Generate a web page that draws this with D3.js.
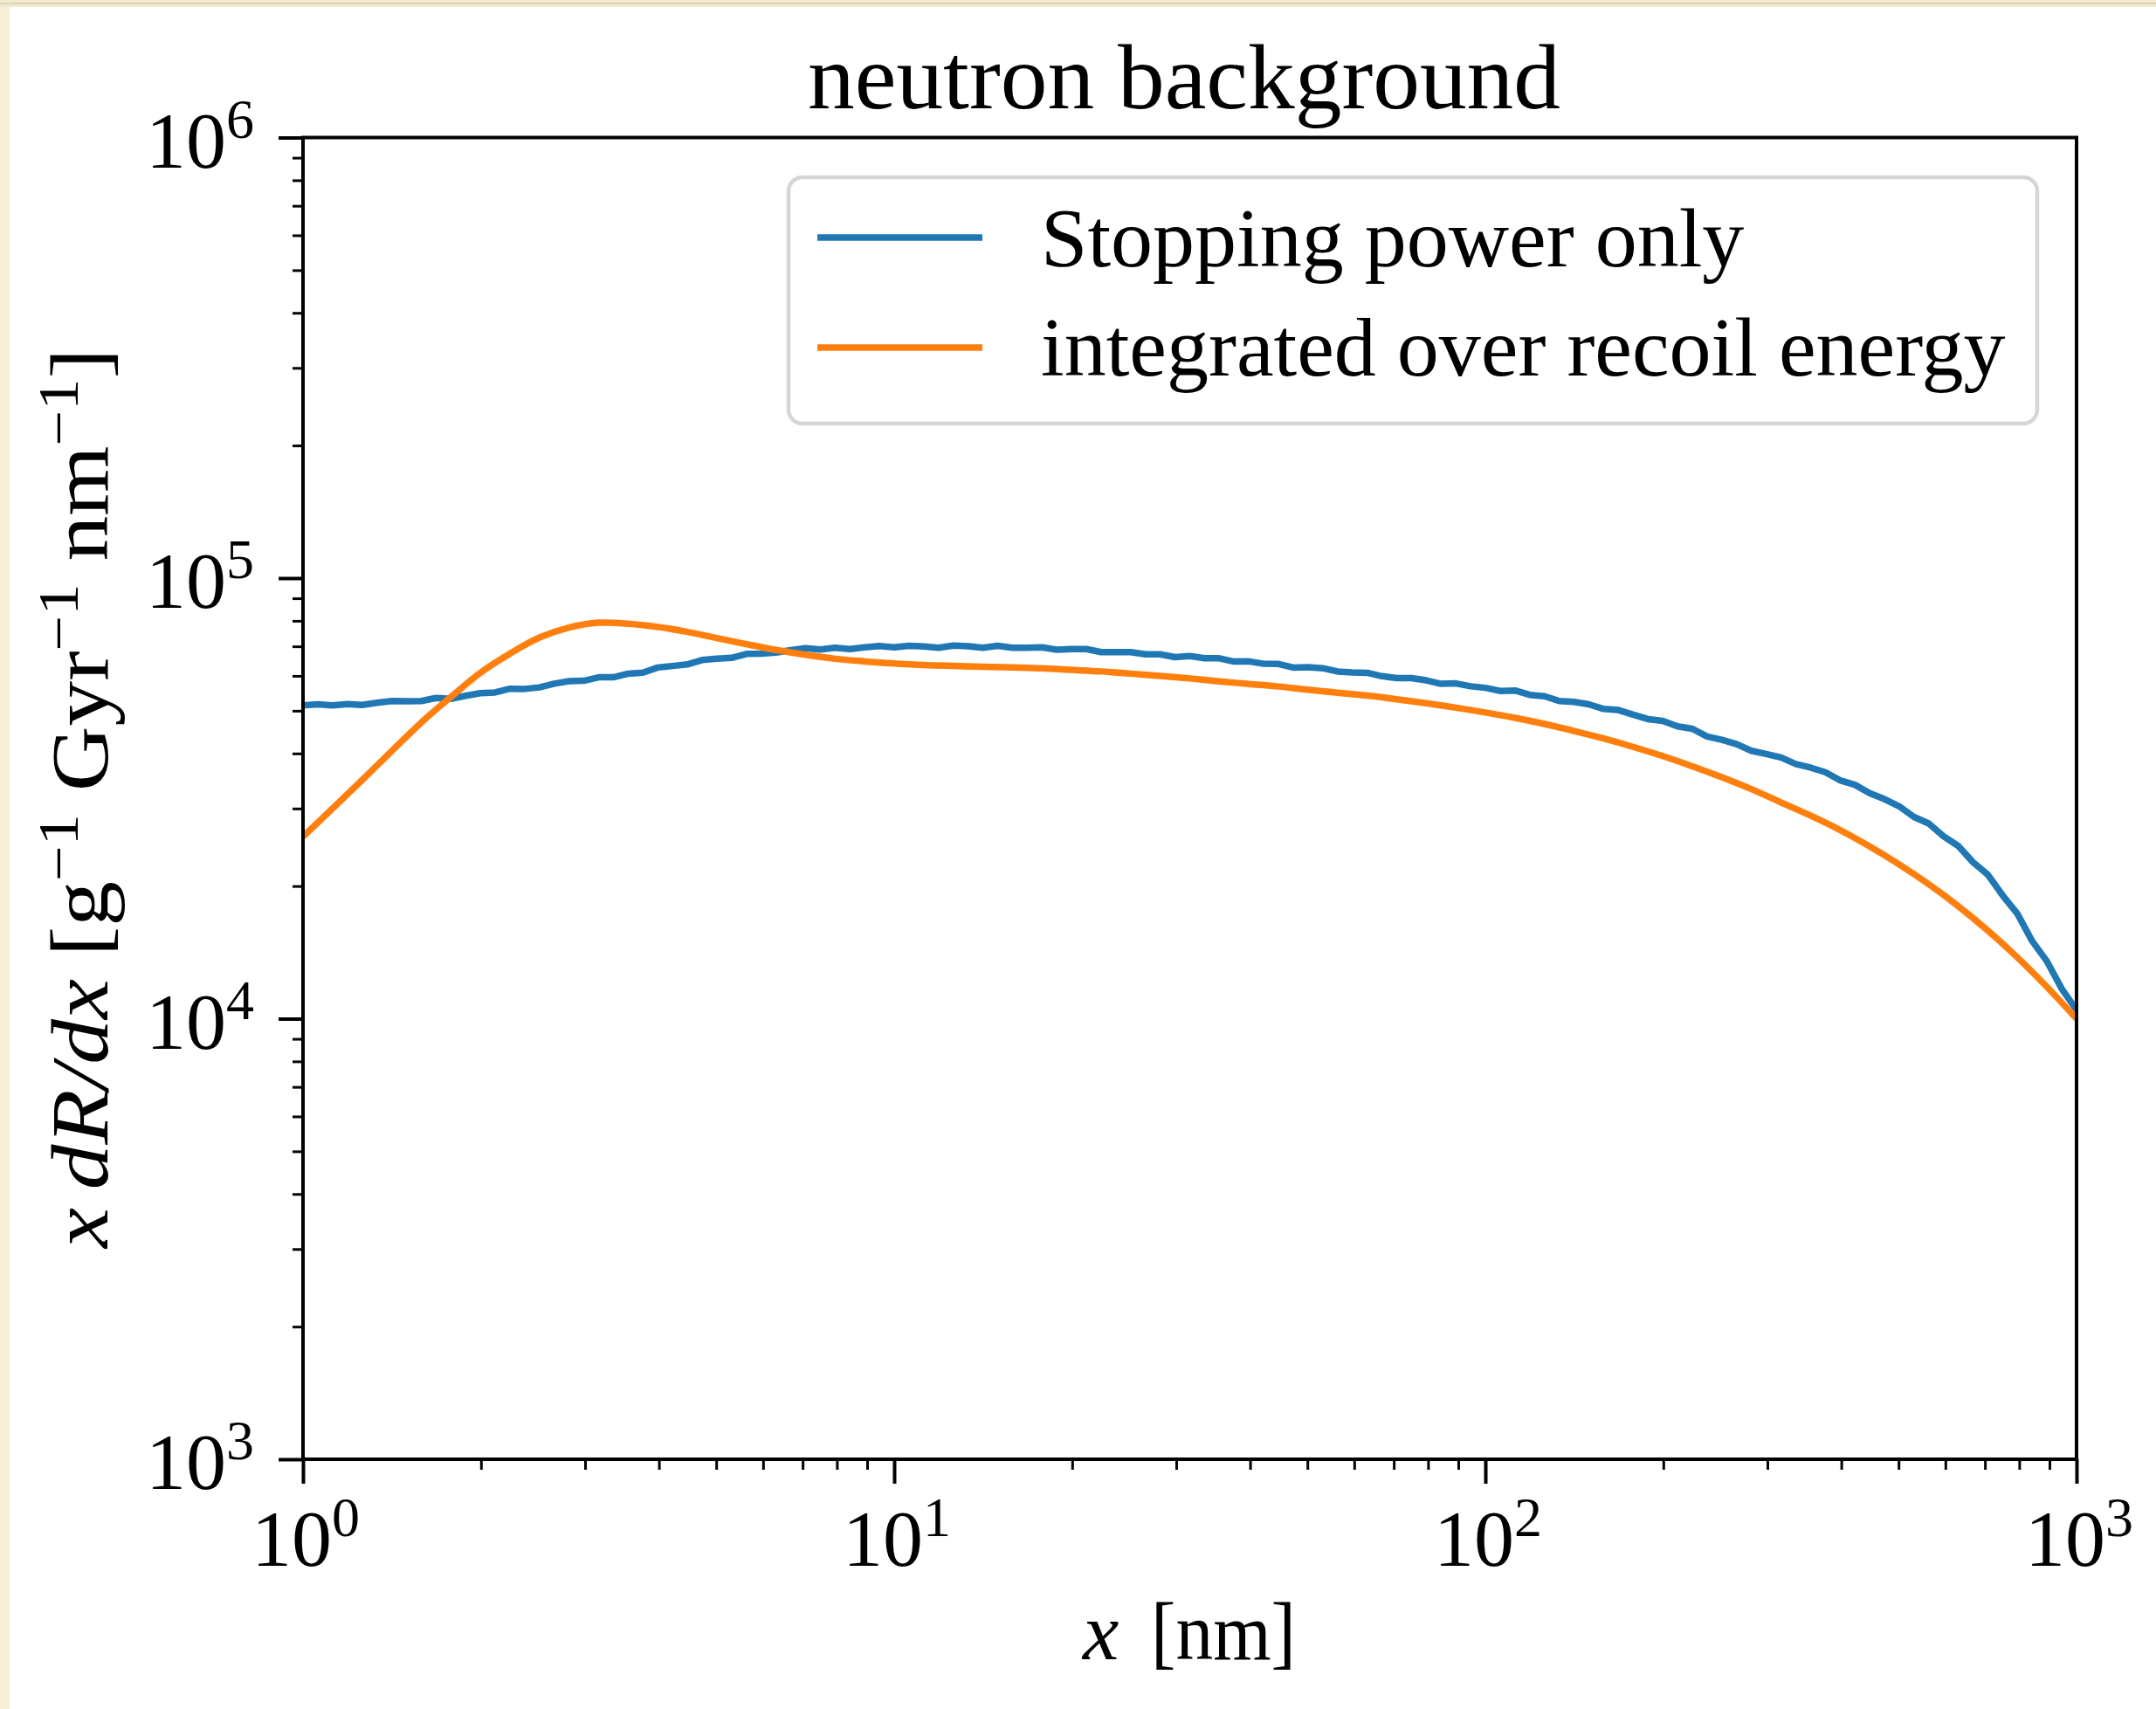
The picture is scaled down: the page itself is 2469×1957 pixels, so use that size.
<!DOCTYPE html>
<html>
<head>
<meta charset="utf-8">
<script src="https://cdn.jsdelivr.net/npm/d3@7"></script>
<style>
  html, body { margin: 0; padding: 0; background: #ffffff; }
  svg { display: block; }
  text { font-family: "Liberation Serif", "DejaVu Serif", serif; fill: #000; }
</style>
</head>
<body>
<svg id="chart" width="2469" height="1957"></svg>
<script>
// ---- data -------------------------------------------------------------
const chartTitle = "neutron background";
const seriesNames = ["Stopping power only", "integrated over recoil energy"];
const seriesColors = ["#1f77b4", "#ff7f0e"];
const xTickExponents = [0, 1, 2, 3];
const yTickExponents = [3, 4, 5, 6];

// track length x [nm] and x dR/dx for the stopping-power-only estimate
const stoppingX = [
  1, 1.059, 1.122, 1.189, 1.259, 1.334, 1.413, 1.496, 1.585, 1.679, 1.778, 1.884, 1.995, 2.113, 2.239, 2.371, 2.512, 2.661, 2.818, 2.985,
  3.162, 3.350, 3.548, 3.758, 3.981, 4.217, 4.467, 4.732, 5.012, 5.309, 5.623, 5.957, 6.310, 6.683, 7.079, 7.499, 7.943, 8.414, 8.913, 9.441,
  10, 10.59, 11.22, 11.89, 12.59, 13.34, 14.13, 14.96, 15.85, 16.79, 17.78, 18.84, 19.95, 21.13, 22.39, 23.71, 25.12, 26.61, 28.18, 29.85,
  31.62, 33.50, 35.48, 37.58, 39.81, 42.17, 44.67, 47.32, 50.12, 53.09, 56.23, 59.57, 63.10, 66.83, 70.79, 74.99, 79.43, 84.14, 89.13, 94.41,
  100, 105.9, 112.2, 118.9, 125.9, 133.4, 141.3, 149.6, 158.5, 167.9, 177.8, 188.4, 199.5, 211.3, 223.9, 237.1, 251.2, 266.1, 281.8, 298.5,
  316.2, 335.0, 354.8, 375.8, 398.1, 421.7, 446.7, 473.2, 501.2, 530.9, 562.3, 595.7, 631.0, 668.3, 707.9, 749.9, 794.3, 841.4, 891.3, 944.1,
  1000
];
const stoppingY = [
  51410, 51710, 51410, 51770, 51530, 52130, 52600, 52540, 52600, 53460,
  53210, 54070, 54820, 55010, 56100, 56040, 56490, 57610, 58340, 58470,
  59560, 59560, 60680, 61030, 62670, 63170, 63690, 65170, 65620, 65920,
  67300, 67380, 67770, 68630, 69340, 68860, 69500, 69020, 69660, 70140,
  69660, 70220, 69980, 69500, 70300, 70070, 69500, 70220, 69500, 69500,
  69660, 68780, 69020, 69020, 67920, 67920, 67920, 67150, 67150, 66150,
  66530, 65770, 65770, 64650, 64720, 63900, 63830, 62670, 62810, 62450,
  61380, 61100, 60960, 59900, 59290, 59290, 58610, 57540, 57670, 56810,
  56360, 55460, 55590, 54320, 53950, 52600, 52360, 51710, 50470, 50180,
  48980, 47860, 47420, 46080, 45500, 43700, 42950, 41980, 40550, 39900,
  39170, 37840, 37150, 36260, 34750, 33960, 32510, 31510, 30340, 28700,
  27730, 25940, 24660, 22650, 21230, 19050, 17300, 15000, 13490, 11690,
  10470
];

// x dR/dx integrated over recoil energy
const integratedX = [
  1, 1.122, 1.259, 1.413, 1.585, 1.778, 1.995, 2.239, 2.512, 2.818, 3.162, 3.548, 3.981, 4.467, 5.012, 5.623, 6.310, 7.079, 7.943, 8.913,
  10, 11.22, 12.59, 14.13, 15.85, 17.78, 19.95, 22.39, 25.12, 28.18, 31.62, 35.48, 39.81, 44.67, 50.12, 56.23, 63.10, 70.79, 79.43, 89.13,
  100, 112.2, 125.9, 141.3, 158.5, 177.8, 199.5, 223.9, 251.2, 281.8, 316.2, 354.8, 398.1, 446.7, 501.2, 562.3, 631.0, 707.9, 794.3, 891.3,
  1000
];
const integratedY = [
  25900, 30000, 34800, 40500, 47000, 53700, 60950, 67400, 73300, 77200,
  79200, 78800, 77500, 75500, 73100, 70800, 68700, 67000, 65600, 64700,
  64000, 63500, 63200, 62950, 62700, 62400, 61900, 61400, 60700, 60000,
  59200, 58300, 57500, 56750, 55800, 54950, 54100, 53100, 52000, 50800,
  49550, 48190, 46670, 44980, 43250, 41400, 39450, 37410, 35320, 33190,
  30970, 28900, 26800, 24600, 22400, 20200, 18000, 15850, 13770, 11800,
  10000
];

// ---- layout -----------------------------------------------------------
const W = 2469, H = 1957;
const plot = { left: 347, right: 2378, top: 157.5, bottom: 1671 };

const svg = d3.select("#chart");

// page edge strip
svg.append("rect").attr("x", 0).attr("y", 0).attr("width", W).attr("height", H).attr("fill", "#ffffff");
svg.append("rect").attr("x", 0).attr("y", 0).attr("width", 11).attr("height", H).attr("fill", "#f6efd7");
svg.append("rect").attr("x", 0).attr("y", 0).attr("width", W).attr("height", 8).attr("fill", "#f3ebcf");
svg.append("line").attr("x1", 0).attr("x2", W).attr("y1", 4).attr("y2", 4)
  .attr("stroke", "#ddd4b6").attr("stroke-width", 2);

const x = d3.scaleLog().domain([1, 1000]).range([plot.left, plot.right]);
const y = d3.scaleLog().domain([1000, 1e6]).range([plot.bottom, plot.top]);

const majorX = xTickExponents.map(e => Math.pow(10, e));
const majorY = yTickExponents.map(e => Math.pow(10, e));
const minorOf = (scale) => scale.ticks().filter(v => {
  const m = v / Math.pow(10, Math.floor(Math.log10(v) + 1e-9));
  return Math.abs(m - 1) > 1e-6;
});

// ---- ticks ------------------------------------------------------------
function styleAxis(g, width) {
  g.select(".domain").remove();
  g.selectAll(".tick line").attr("stroke", "#000").attr("stroke-width", width);
  g.selectAll(".tick text").remove();
}
svg.append("g").attr("transform", `translate(0,${plot.bottom})`)
  .call(d3.axisBottom(x).tickValues(minorOf(x)).tickSize(12).tickFormat(""))
  .call(g => styleAxis(g, 3));
svg.append("g").attr("transform", `translate(0,${plot.bottom})`)
  .call(d3.axisBottom(x).tickValues(majorX).tickSize(28).tickFormat(""))
  .call(g => styleAxis(g, 4));
svg.append("g").attr("transform", `translate(${plot.left},0)`)
  .call(d3.axisLeft(y).tickValues(minorOf(y)).tickSize(12).tickFormat(""))
  .call(g => styleAxis(g, 3));
svg.append("g").attr("transform", `translate(${plot.left},0)`)
  .call(d3.axisLeft(y).tickValues(majorY).tickSize(28).tickFormat(""))
  .call(g => styleAxis(g, 4));

// tick labels as 10^k
function powerLabel(sel) {
  sel.append("tspan").text("10");
  sel.append("tspan").attr("font-size", 64).attr("dy", -34).text(d => d);
}
svg.append("g").selectAll("text").data(xTickExponents).join("text")
  .attr("x", d => x(Math.pow(10, d)) + 3)
  .attr("y", 1793)
  .attr("text-anchor", "middle")
  .attr("font-size", 92)
  .call(powerLabel);
svg.append("g").selectAll("text").data(yTickExponents).join("text")
  .attr("x", 291)
  .attr("y", d => y(Math.pow(10, d)) + 34)
  .attr("text-anchor", "end")
  .attr("font-size", 92)
  .call(powerLabel);

// ---- series -----------------------------------------------------------
svg.append("clipPath").attr("id", "plot-clip").append("rect")
  .attr("x", plot.left).attr("y", plot.top)
  .attr("width", plot.right - plot.left).attr("height", plot.bottom - plot.top);

const stopping = stoppingX.map((v, i) => [v, stoppingY[i]]);
const integrated = integratedX.map((v, i) => [v, integratedY[i]]);

const lineLinear = d3.line().x(d => x(d[0])).y(d => y(d[1]));
const lineSmooth = d3.line().x(d => x(d[0])).y(d => y(d[1])).curve(d3.curveCatmullRom.alpha(0.5));

const lines = svg.append("g").attr("clip-path", "url(#plot-clip)")
  .attr("fill", "none").attr("stroke-width", 7.5)
  .attr("stroke-linejoin", "round").attr("stroke-linecap", "butt");
lines.append("path").attr("d", lineLinear(stopping)).attr("stroke", seriesColors[0]);
lines.append("path").attr("d", lineSmooth(integrated)).attr("stroke", seriesColors[1]);

// plot frame
svg.append("rect")
  .attr("x", plot.left).attr("y", plot.top)
  .attr("width", plot.right - plot.left).attr("height", plot.bottom - plot.top)
  .attr("fill", "none").attr("stroke", "#000").attr("stroke-width", 4);

// ---- legend -----------------------------------------------------------
const legend = svg.append("g");
legend.append("rect")
  .attr("x", 903).attr("y", 203).attr("width", 1430).attr("height", 282).attr("rx", 16)
  .attr("fill", "#fff").attr("stroke", "#d6d6d6").attr("stroke-width", 4.5);
const legendRows = [
  { name: seriesNames[0], color: seriesColors[0], lineY: 272, textY: 305 },
  { name: seriesNames[1], color: seriesColors[1], lineY: 398, textY: 430 }
];
legendRows.forEach(r => {
  legend.append("line").attr("x1", 936).attr("x2", 1125).attr("y1", r.lineY).attr("y2", r.lineY)
    .attr("stroke", r.color).attr("stroke-width", 7.5);
  legend.append("text").attr("x", 1192).attr("y", r.textY).attr("font-size", 96).text(r.name);
});

// ---- titles and axis labels -------------------------------------------
svg.append("text").attr("x", 1356).attr("y", 124).attr("text-anchor", "middle")
  .attr("font-size", 106).attr("textLength", 862).attr("lengthAdjust", "spacingAndGlyphs")
  .text(chartTitle);

const xl = svg.append("g").attr("font-size", 93);
xl.append("text").attr("x", 1240).attr("y", 1900).attr("font-style", "italic").text("x");
xl.append("text").attr("x", 1318).attr("y", 1900).attr("textLength", 166)
  .attr("lengthAdjust", "spacingAndGlyphs").text("[nm]");

const yl = svg.append("text")
  .attr("transform", `translate(123,914) rotate(-90)`)
  .attr("text-anchor", "middle")
  .attr("font-size", 93)
  .attr("textLength", 1030)
  .attr("lengthAdjust", "spacingAndGlyphs");
const ylParts = [
  { t: "x", it: true }, { t: "\u2009" }, { t: "dR/dx", it: true }, { t: " [g" }, { t: "\u22121", sup: true },
  { t: " Gyr" }, { t: "\u22121", sup: true }, { t: " nm" }, { t: "\u22121", sup: true }, { t: "]" }
];
let raised = false;
ylParts.forEach(p => {
  const ts = yl.append("tspan").text(p.t);
  if (p.it) ts.attr("font-style", "italic");
  if (p.sup) { ts.attr("font-size", 65).attr("dy", -34); raised = true; }
  else if (raised) { ts.attr("dy", 34); raised = false; }
});
</script>
</body>
</html>
